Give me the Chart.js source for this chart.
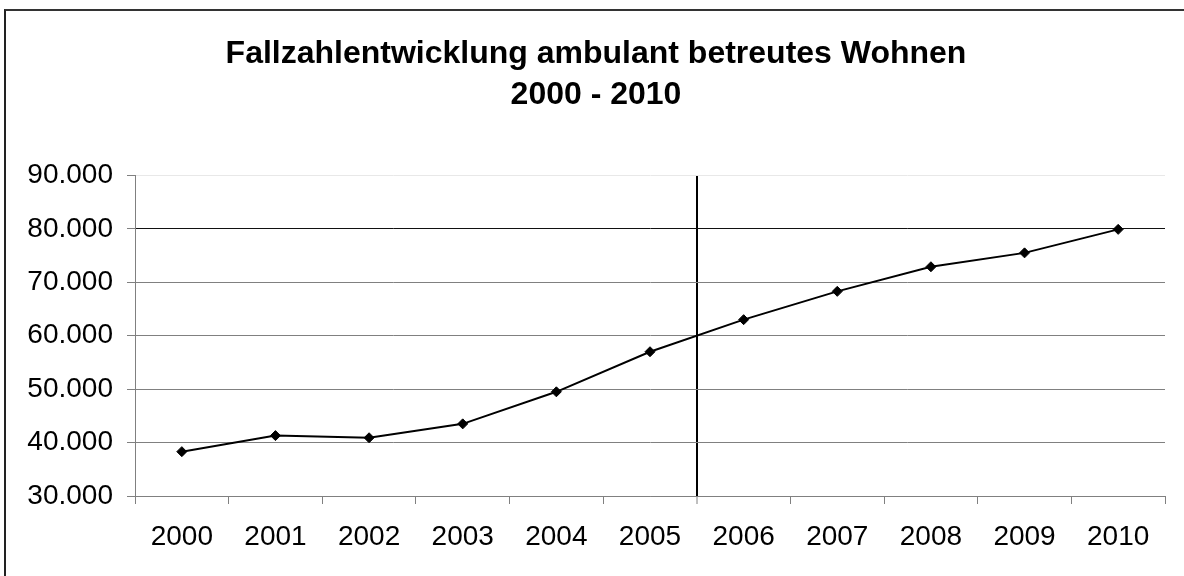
<!DOCTYPE html>
<html>
<head>
<meta charset="utf-8">
<script src="https://cdn.jsdelivr.net/npm/chart.js@4"></script>
<style>
  body { margin: 0; background: #fff; overflow: hidden; }
  #wrap { position: relative; width: 1184px; height: 576px; overflow: hidden; }
  #frame { position: absolute; left: 4px; top: 9px; width: 1300px; height: 700px;
           border-left: 2px solid #222; border-top: 2px solid #333; }
  canvas { position: absolute; left: 0; top: 0; }
</style>
</head>
<body>
<div id="wrap">
  <div id="frame"></div>
  <canvas id="chart" width="1184" height="576"></canvas>
</div>
<script>
// ---------- data ----------
const years = ["2000", "2001", "2002", "2003", "2004", "2005", "2006", "2007", "2008", "2009", "2010"];
const cases = [38300, 41300, 40900, 43500, 49500, 57000, 63000, 68300, 72900, 75500, 79900];
const yMin = 30000;
const yMax = 90000;
const yStep = 10000;
const titleLines = ["Fallzahlentwicklung ambulant betreutes Wohnen", "2000 - 2010"];
const markerIndex = 6; // boundary line before 2006

const font = "'Liberation Sans', Arial, sans-serif";

// 90000 -> "90.000"
function formatDe(v) {
  return String(v).replace(/\B(?=(\d{3})+(?!\d))/g, ".");
}

new Chart(document.getElementById("chart"), {
  type: "line",
  data: {
    labels: years,
    datasets: [{
      data: cases,
      borderColor: "#000",
      borderWidth: 2,
      tension: 0,
      pointStyle: "rectRot",
      pointRadius: 5,
      pointBackgroundColor: "#000",
      pointBorderColor: "#000",
      pointBorderWidth: 1
    }]
  },
  options: {
    responsive: false,
    animation: false,
    devicePixelRatio: 1,
    layout: { padding: { left: 27, right: 19, top: 0, bottom: 0 } },
    plugins: {
      legend: { display: false },
      tooltip: { enabled: false },
      title: {
        display: true,
        text: titleLines,
        color: "#000",
        font: { family: font, size: 32, weight: "bold", lineHeight: 1.303 },
        padding: { top: 33, bottom: 59 }
      }
    },
    scales: {
      x: {
        offset: true,
        grid: {
          offset: true,
          color: ctx => ctx.index === markerIndex ? "#000" : "rgba(0,0,0,0)",
          lineWidth: ctx => ctx.index === markerIndex ? 2 : 1,
          tickColor: "#808080",
          tickWidth: 1,
          tickLength: 8
        },
        border: { color: "#808080", width: 1 },
        ticks: { color: "#000", font: { family: font, size: 28 }, padding: 16, maxRotation: 0 },
        afterFit: scale => { scale.height = 80; }
      },
      y: {
        min: yMin,
        max: yMax,
        grid: {
          color: ctx => {
            if (ctx.tick && ctx.tick.value === yMax) return "#e8e8e8";
            if (ctx.tick && ctx.tick.value === 80000) return "#111";
            return "#808080";
          },
          lineWidth: 1,
          tickColor: "#808080",
          tickLength: 8
        },
        border: { color: "#808080", width: 1 },
        ticks: {
          stepSize: yStep,
          color: "#000",
          font: { family: font, size: 28 },
          padding: 14,
          callback: v => formatDe(v)
        },
        afterFit: scale => { scale.width = 108; }
      }
    }
  }
});
</script>
</body>
</html>
